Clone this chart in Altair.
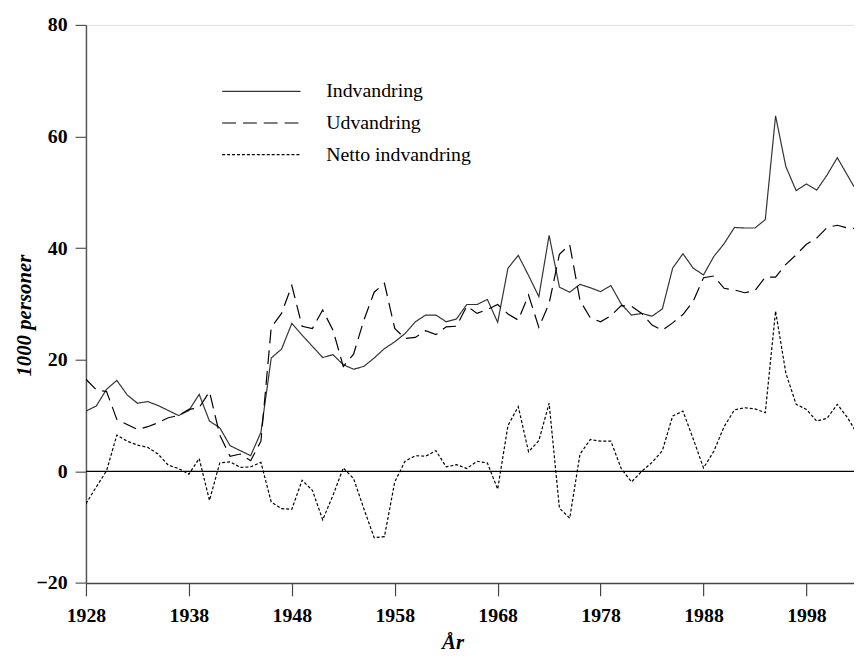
import altair as alt
import pandas as pd

years = list(range(1928, 2004))

indvandring = [
    10.8, 11.7, 14.7, 16.3, 13.7, 12.2, 12.5, 11.8, 10.9, 10.0,
    10.9, 13.8, 9.0, 7.8, 4.6, 3.7, 2.8, 7.0, 20.3, 21.9,
    26.5, 24.4, 22.4, 20.4, 20.9, 19.1, 18.3, 18.8, 20.3, 22.0,
    23.2, 24.7, 26.8, 28.0, 28.0, 26.8, 27.3, 29.9, 29.9, 30.8,
    26.7, 36.4, 38.7, 35.1, 31.3, 42.3, 33.0, 32.1, 33.5, 32.9,
    32.2, 33.3, 30.0, 28.0, 28.3, 27.8, 29.1, 36.4, 39.0, 36.4,
    35.2, 38.5, 40.8, 43.7, 43.6, 43.6, 45.1, 63.7, 54.6, 50.3,
    51.5, 50.4, 53.1, 56.2, 53.0, 49.8,
]

udvandring = [
    16.5, 14.6, 14.3, 9.3, 8.4, 7.5, 8.0, 8.7, 9.6, 10.0,
    11.1, 11.4, 14.3, 6.5, 2.7, 3.1, 1.9, 5.4, 25.8, 28.3,
    33.3, 26.0, 25.6, 28.9, 25.3, 18.8, 21.0, 27.1, 32.1, 33.7,
    25.6, 23.8, 24.0, 25.2, 24.5, 25.9, 26.0, 29.6, 28.3, 29.0,
    29.9, 28.2, 27.1, 31.6, 25.8, 30.1, 38.9, 40.6, 30.6, 27.5,
    26.8, 27.9, 29.7, 29.6, 28.3, 26.2, 25.3, 26.6, 28.1, 30.5,
    34.7, 35.0, 32.8, 32.5, 32.0, 32.4, 34.8, 34.8, 37.1, 38.8,
    40.7, 41.8, 43.7, 44.1, 43.6, 43.5,
]

netto = [
    -5.8, -2.8, 0.1, 6.5, 5.4, 4.7, 4.3, 3.1, 1.1, 0.5,
    -0.5, 2.3, -5.2, 1.5, 1.7, 0.7, 0.8, 1.6, -5.5, -6.7,
    -6.8, -1.6, -3.4, -8.7, -4.3, 0.6, -1.3, -6.7, -11.9, -11.7,
    -1.9, 1.8, 2.8, 2.7, 3.7, 0.8, 1.2, 0.5, 1.8, 1.5,
    -3.2, 8.2, 11.6, 3.5, 5.5, 12.2, -6.6, -8.4, 3.1, 5.7,
    5.4, 5.4, 0.5, -1.9, 0.0, 1.6, 3.7, 9.9, 10.8, 5.8,
    0.6, 3.6, 8.0, 11.0, 11.4, 11.2, 10.5, 28.7, 17.6, 12.0,
    11.1, 9.0, 9.5, 12.0, 9.6, 6.5,
]

series_names = ["Indvandring", "Udvandring", "Netto indvandring"]
x_ticks = [1928, 1938, 1948, 1958, 1968, 1978, 1988, 1998]
y_ticks = [-20, 0, 20, 40, 60, 80]

rows = []
for name, vals in zip(series_names, [indvandring, udvandring, netto]):
    for yr, v in zip(years, vals):
        rows.append({"year": yr, "value": v, "serie": name})
df = pd.DataFrame(rows)

FONT = "Liberation Serif"

x_enc = alt.X(
    "year:Q",
    scale=alt.Scale(domain=[1928, 2002.62], nice=False, zero=False),
    axis=alt.Axis(
        values=x_ticks, format="d", title="År", grid=False,
        tickSize=13, labelPadding=10, labelFont=FONT, labelFontSize=20,
        labelFontWeight="bold", labelColor="black",
        titleFont=FONT, titleFontSize=21, titleFontStyle="italic",
        titleFontWeight="bold", titleColor="black",
        titleX=370, titleY=66, titleBaseline="alphabetic",
        domainColor="#444", tickColor="#444", domainWidth=1.5, tickWidth=1.2,
        labelFlush=False,
    ),
)
y_enc = alt.Y(
    "value:Q",
    scale=alt.Scale(domain=[-20, 80], nice=False),
    axis=alt.Axis(
        values=y_ticks, title="1000 personer", grid=False,
        tickSize=11, labelPadding=8, labelFont=FONT, labelFontSize=20,
        labelFontWeight="bold", labelColor="black",
        titleFont=FONT, titleFontSize=21, titleFontStyle="italic",
        titleFontWeight="bold", titleColor="black",
        titleX=-62, titleY=293, titleBaseline="middle",
        domainColor="#555", tickColor="#555", domainWidth=1.5, tickWidth=1.2,
    ),
)

# long horizontal stroke symbol: width = 5 * sqrt(symbolSize)
legend = alt.Legend(
    title=None, orient="none", legendX=167, legendY=57,
    symbolType="M-5,0H5", symbolSize=250, symbolStrokeWidth=1.2,
    labelFont=FONT, labelFontSize=20, labelColor="black", labelOffset=55.5,
    rowPadding=12,
)

lines = alt.Chart(df).mark_line(strokeWidth=1.2, clip=True).encode(
    x=x_enc,
    y=y_enc,
    color=alt.Color("serie:N", sort=series_names,
                    scale=alt.Scale(domain=series_names, range=["#333333", "#000000", "#000000"]),
                    legend=legend),
    strokeDash=alt.StrokeDash("serie:N", sort=series_names,
                              scale=alt.Scale(domain=series_names, range=[[1, 0], [14, 7], [3, 2]]),
                              legend=legend),
)

zero = alt.Chart(pd.DataFrame({"value": [0]})).mark_rule(color="black", strokeWidth=1.3).encode(
    y=alt.Y("value:Q")
)

chart = alt.layer(zero, lines).properties(
    width=775.3, height=563.3,
    autosize=alt.AutoSizeParams(type="none"),
    padding={"left": 78.7, "top": 14, "right": 0, "bottom": 72},
).configure_view(stroke=None).configure(background="white")

chart.save("out.html", embed_options={"renderer": "svg", "actions": False})
